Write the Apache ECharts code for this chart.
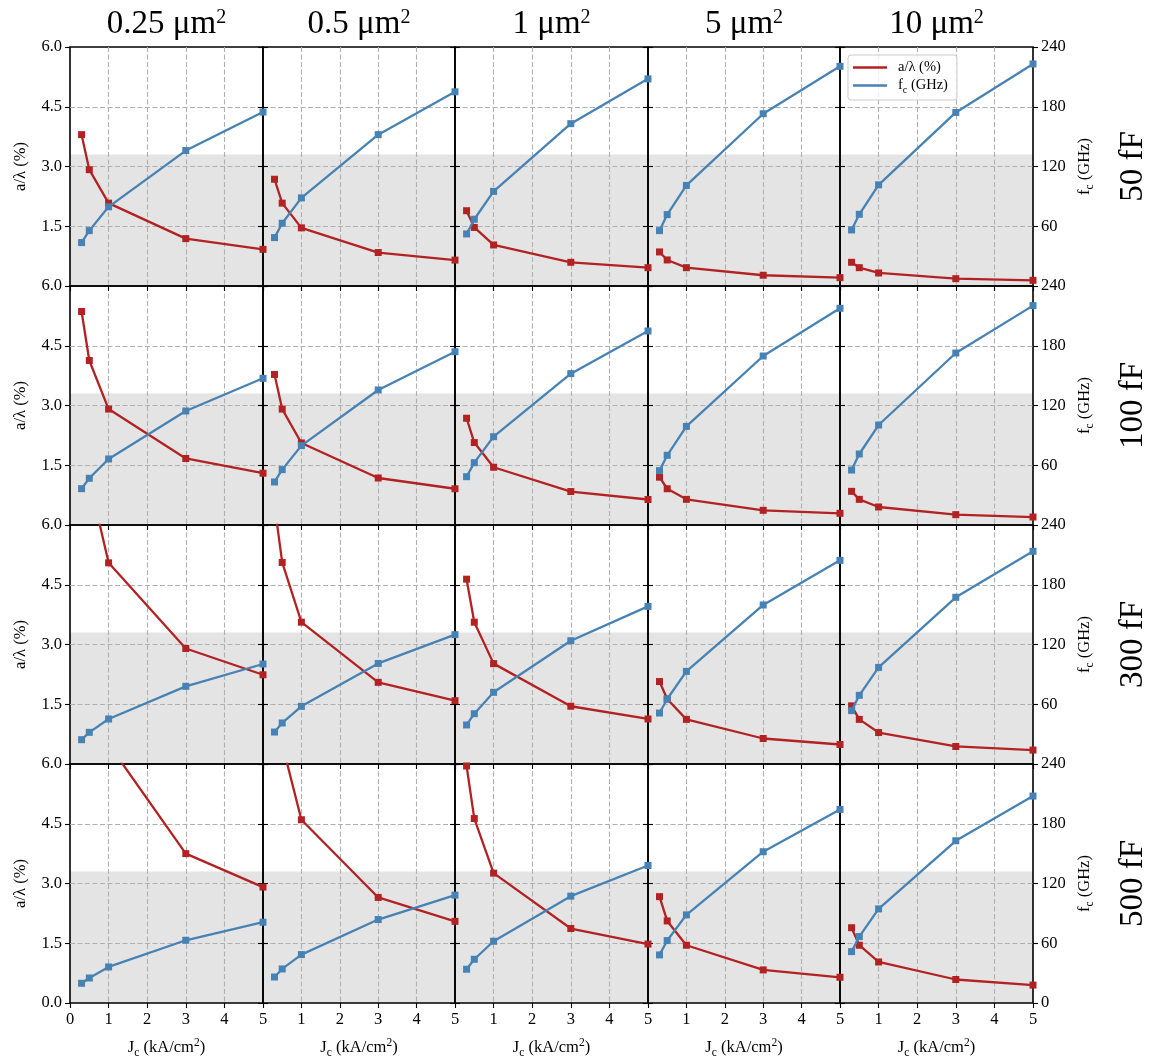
<!DOCTYPE html>
<html>
<head>
<meta charset="utf-8">
<title>a/λ and f_c versus J_c</title>
<script src="https://cdn.jsdelivr.net/npm/echarts@6.0.0/dist/echarts.min.js"></script>
<style>
  html, body { margin: 0; padding: 0; background: #fff; }
  #chart { width: 1158px; height: 1062px; }
</style>
</head>
<body>
<div id="chart"></div>
<script>
// Critical current densities (kA/cm^2) sampled in every panel
const jc = [0.3, 0.5, 1, 3, 5];
// Junction areas (columns) and shunt capacitances (rows)
const areaLabels = ['0.25', '0.5', '1', '5', '10'];
const capLabels = ['50 fF', '100 fF', '300 fF', '500 fF'];

// a/λ (%) — one row per junction area, values along jc
const ratio50 = [
  [3.80, 2.92, 2.08, 1.19, 0.92],
  [2.68, 2.08, 1.46, 0.84, 0.65],
  [1.89, 1.47, 1.03, 0.595, 0.46],
  [0.855, 0.654, 0.46, 0.27, 0.21],
  [0.595, 0.46, 0.327, 0.184, 0.142]
];
const ratio100 = [
  [5.36, 4.13, 2.91, 1.67, 1.30],
  [3.78, 2.91, 2.06, 1.18, 0.91],
  [2.68, 2.07, 1.45, 0.84, 0.64],
  [1.20, 0.91, 0.644, 0.368, 0.293],
  [0.845, 0.644, 0.452, 0.26, 0.20]
];
const ratio300 = [
  [9.22, 7.14, 5.05, 2.90, 2.24],
  [6.50, 5.06, 3.56, 2.05, 1.59],
  [4.64, 3.56, 2.52, 1.45, 1.13],
  [2.07, 1.63, 1.12, 0.64, 0.49],
  [1.46, 1.12, 0.79, 0.44, 0.35]
];
const ratio500 = [
  [11.86, 9.18, 6.50, 3.75, 2.91],
  [8.40, 6.50, 4.60, 2.65, 2.05],
  [5.95, 4.63, 3.26, 1.87, 1.48],
  [2.67, 2.06, 1.45, 0.83, 0.645],
  [1.89, 1.45, 1.03, 0.59, 0.45]
];

// f_c (GHz) — one row per junction area, values along jc
const freq50 = [
  [43.6, 55.6, 79.5, 136.0, 174.7],
  [48.6, 63.0, 88.5, 152.0, 195.0],
  [52.3, 67.0, 95.0, 163.0, 208.0],
  [55.6, 71.7, 101.0, 173.0, 220.6],
  [56.3, 72.0, 101.6, 174.3, 223.0]
];
const freq100 = [
  [36.5, 46.9, 66.3, 114.5, 147.3],
  [43.2, 55.6, 79.7, 135.6, 174.0],
  [48.5, 62.6, 88.7, 152.0, 194.8],
  [54.6, 70.0, 99.0, 169.7, 217.6],
  [55.2, 71.3, 100.4, 172.7, 220.3]
];
const freq300 = [
  [24.4, 31.8, 45.2, 78.0, 100.4],
  [32.1, 41.2, 57.9, 101.0, 129.9],
  [39.2, 50.5, 72.0, 123.8, 158.3],
  [51.2, 65.3, 93.0, 159.7, 204.5],
  [53.6, 69.0, 97.0, 167.4, 213.6]
];
const freq500 = [
  [19.8, 25.1, 36.2, 63.0, 81.1],
  [26.1, 34.2, 48.6, 83.8, 108.3],
  [33.9, 43.9, 62.0, 107.3, 138.1],
  [48.3, 62.7, 88.5, 151.9, 194.4],
  [51.6, 66.7, 94.5, 162.9, 207.8]
];

const ratioByCap = [ratio50, ratio100, ratio300, ratio500];
const freqByCap = [freq50, freq100, freq300, freq500];

// Upper edge of the shaded a/λ region (%)
const bandTop = 3.3;

// Axis ranges
const jcRange = { min: 0, max: 5, interval: 1 };
const ratioRange = { min: 0, max: 6, interval: 1.5 };
const freqRange = { min: 0, max: 240, interval: 60 };

const RED = '#b22222';
const BLUE = '#4682b4';
const FONT = '"Liberation Serif", "Times New Roman", serif';

// Panel layout (pixels)
const plotLeft = 70, plotTop = 47, cellW = 192.6, cellH = 239;
const nCols = areaLabels.length, nRows = capLabels.length;
const colEdge = c => Math.round(plotLeft + c * cellW);

const tickFont = 16.5;
const nameRich = {
  t: { fontFamily: FONT, fontSize: tickFont, color: '#000', lineHeight: 22 },
  s: { fontFamily: FONT, fontSize: 11.5, color: '#000', lineHeight: 11, verticalAlign: 'bottom' },
  p: { fontFamily: FONT, fontSize: 11.5, color: '#000', lineHeight: 16.6, verticalAlign: 'top' }
};
const legendRich = {
  t: { fontFamily: FONT, fontSize: 14.5, color: '#000', lineHeight: 19 },
  s: { fontFamily: FONT, fontSize: 10, color: '#000', lineHeight: 10, verticalAlign: 'bottom' }
};

const grids = [], xAxes = [], yAxes = [], series = [], graphics = [];
const tickStyle = { show: true, inside: false, length: 5, lineStyle: { color: '#000', width: 1.1 } };
const gridLineStyle = { color: '#b0b0b0', type: [5, 2.5], width: 1.1 };

for (let r = 0; r < nRows; r++) {
  for (let c = 0; c < nCols; c++) {
    const i = r * nCols + c;
    const lastRow = r === nRows - 1;
    grids.push({
      left: colEdge(c),
      top: plotTop + r * cellH,
      width: colEdge(c + 1) - colEdge(c),
      height: cellH,
      show: true,
      borderColor: '#000',
      borderWidth: 1.6,
      backgroundColor: 'transparent'
    });
    xAxes.push({
      gridIndex: i,
      type: 'value',
      min: jcRange.min, max: jcRange.max, interval: jcRange.interval,
      axisLine: { show: false },
      axisTick: tickStyle,
      axisLabel: {
        show: lastRow, showMinLabel: c === 0, margin: 8,
        fontFamily: FONT, fontSize: tickFont, color: '#000'
      },
      splitLine: { show: true, showMinLine: false, showMaxLine: false, lineStyle: gridLineStyle },
      name: lastRow ? '{t|J}{s|c}{t| (kA/cm}{p|2}{t|)}' : '',
      nameLocation: 'middle',
      nameGap: 34,
      nameTextStyle: { rich: nameRich }
    });
    yAxes.push({
      gridIndex: i,
      type: 'value',
      position: 'left',
      min: ratioRange.min, max: ratioRange.max, interval: ratioRange.interval,
      axisLine: { show: false },
      axisTick: tickStyle,
      axisLabel: {
        show: c === 0, showMinLabel: lastRow, margin: 8,
        fontFamily: FONT, fontSize: tickFont, color: '#000',
        formatter: v => v.toFixed(1)
      },
      splitLine: { show: true, showMinLine: false, showMaxLine: false, lineStyle: gridLineStyle },
      name: c === 0 ? '{t|a/λ (%)}' : '',
      nameLocation: 'middle',
      nameGap: 38,
      nameTextStyle: { rich: nameRich }
    });
    yAxes.push({
      gridIndex: i,
      type: 'value',
      position: 'right',
      min: freqRange.min, max: freqRange.max, interval: freqRange.interval,
      axisLine: { show: false },
      axisTick: tickStyle,
      axisLabel: {
        show: c === nCols - 1, showMinLabel: lastRow, margin: 8,
        fontFamily: FONT, fontSize: tickFont, color: '#000'
      },
      splitLine: { show: false },
      name: c === nCols - 1 ? '{t|f}{s|c}{t| (GHz)}' : '',
      nameLocation: 'middle',
      nameGap: 41,
      nameTextStyle: { rich: nameRich }
    });

    // shaded region below bandTop
    series.push({
      type: 'line',
      name: 'band',
      xAxisIndex: i,
      yAxisIndex: 2 * i,
      data: [[jcRange.min, bandTop], [jcRange.max, bandTop]],
      symbol: 'none',
      lineStyle: { width: 0 },
      areaStyle: { color: '#e4e4e4', opacity: 1 },
      silent: true,
      z: -1,
      animation: false
    });
    series.push({
      type: 'line',
      name: 'a/λ (%)',
      xAxisIndex: i,
      yAxisIndex: 2 * i,
      data: jc.map((x, k) => [x, ratioByCap[r][c][k]]),
      symbol: 'rect',
      symbolSize: 7,
      clip: true,
      lineStyle: { color: RED, width: 2.3 },
      itemStyle: { color: RED },
      z: 3,
      animation: false
    });
    series.push({
      type: 'line',
      name: 'fc (GHz)',
      xAxisIndex: i,
      yAxisIndex: 2 * i + 1,
      data: jc.map((x, k) => [x, freqByCap[r][c][k]]),
      symbol: 'rect',
      symbolSize: 7,
      clip: true,
      lineStyle: { color: BLUE, width: 2.3 },
      itemStyle: { color: BLUE },
      z: 4,
      animation: false
    });
  }
}

// Column headings (junction area)
areaLabels.forEach((a, c) => {
  graphics.push({
    type: 'text',
    x: (colEdge(c) + colEdge(c + 1)) / 2,
    y: 24,
    style: {
      text: '{b|' + a + ' μm}{p|2}',
      align: 'center',
      verticalAlign: 'middle',
      rich: {
        b: { fontFamily: FONT, fontSize: 33, lineHeight: 33, fill: '#000' },
        p: { fontFamily: FONT, fontSize: 20, lineHeight: 26, verticalAlign: 'top', fill: '#000' }
      }
    }
  });
});

// Row headings (shunt capacitance)
capLabels.forEach((cap, r) => {
  graphics.push({
    type: 'text',
    x: 1133,
    y: plotTop + (r + 0.5) * cellH,
    rotation: Math.PI / 2,
    style: {
      text: cap,
      font: '33px ' + FONT,
      fill: '#000',
      align: 'center',
      verticalAlign: 'middle'
    }
  });
});

const chart = echarts.init(document.getElementById('chart'), null, { renderer: 'canvas' });
chart.setOption({
  animation: false,
  backgroundColor: '#fff',
  grid: grids,
  xAxis: xAxes,
  yAxis: yAxes,
  series: series,
  graphic: graphics,
  legend: {
    data: [{ name: 'a/λ (%)', icon: 'rect' }, { name: 'fc (GHz)', icon: 'rect' }],
    orient: 'vertical',
    left: 848,
    top: 55,
    itemWidth: 34,
    itemHeight: 2.3,
    itemGap: 3,
    padding: [5, 9, 5, 5],
    borderColor: '#cccccc',
    borderWidth: 1,
    borderRadius: 3,
    backgroundColor: 'rgba(255,255,255,0.8)',
    selectedMode: false,
    formatter: name => name === 'fc (GHz)' ? '{t|f}{s|c}{t| (GHz)}' : '{t|' + name + '}',
    textStyle: { rich: legendRich, padding: [0, 0, 0, 6] }
  }
});
</script>
</body>
</html>
